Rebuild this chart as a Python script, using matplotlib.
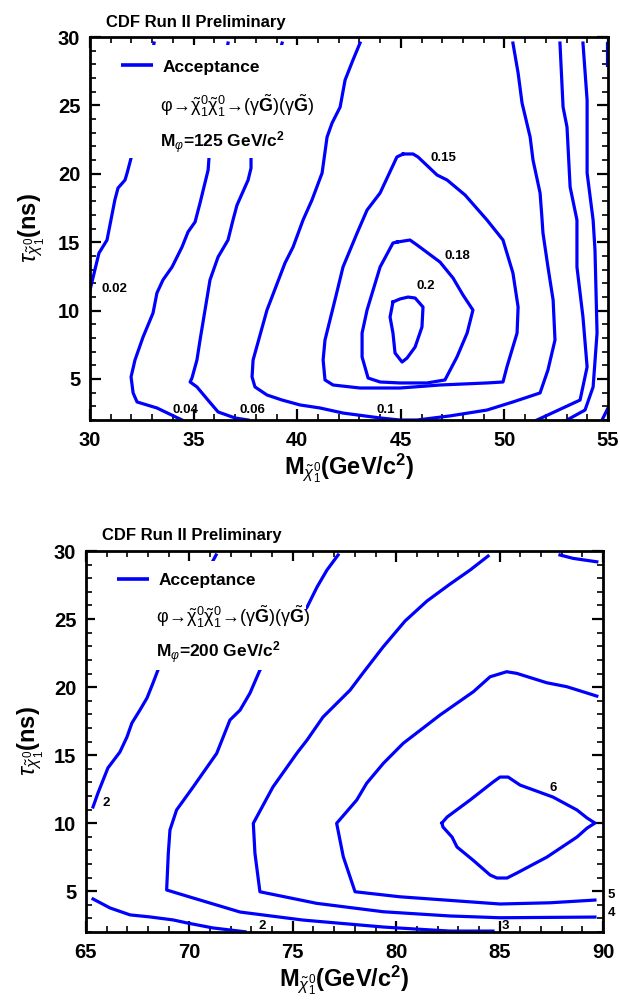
import matplotlib
matplotlib.use("Agg")
import matplotlib.pyplot as plt
from matplotlib.patches import Rectangle
from matplotlib.ticker import MultipleLocator

plt.rcParams['font.family'] = ['Liberation Sans', 'DejaVu Sans']
plt.rcParams['mathtext.fontset'] = 'custom'
plt.rcParams['mathtext.rm'] = 'Liberation Sans'
plt.rcParams['mathtext.it'] = 'Liberation Sans:italic'
plt.rcParams['mathtext.bf'] = 'Liberation Sans:bold'

# ---------------- M_phi = 125 GeV/c^2 : acceptance contours ----------------
acc125_002_x = [30.0, 30.43, 30.82, 31.2, 31.35, 31.69, 31.79, 31.98, 32.6, 33.09]
acc125_002_y = [11.5, 14.2, 15.16, 18.1, 18.96, 19.55, 20.06, 21.15, 25.5, 29.56]

acc125_004_x = [34.44, 33.23, 32.27, 32.08, 31.98, 32.17, 32.56, 33.04, 33.23, 33.52,
                33.96, 34.44, 34.73, 35.07, 35.31, 35.7, 35.74, 36.2, 36.66]
acc125_004_y = [2.0, 2.88, 3.32, 3.98, 5.15, 6.39, 8.07, 9.82, 11.29, 12.24,
                13.19, 14.65, 15.75, 16.48, 17.87, 20.28, 21.15, 25.5, 29.56]

acc125_006_x = [37.63, 37.0, 36.18, 35.69, 35.16, 34.83, 34.92, 35.16, 35.31, 35.55,
                35.79, 36.18, 36.66, 36.9, 37.09, 37.63, 37.77, 37.77, 38.5, 39.27]
acc125_006_y = [2.0, 2.15, 2.59, 3.46, 4.42, 4.78, 5.07, 6.39, 7.85, 10.04,
                12.24, 13.92, 15.16, 16.62, 17.7, 19.55, 20.42, 21.15, 25.5, 29.56]

acc125_010_x = [43.03, 42.69, 42.31, 42.07, 41.68, 41.44, 41.2, 40.71, 40.28, 39.8,
                39.41, 38.54, 37.87, 37.82, 37.96, 38.54, 39.27, 40.14, 41.1, 42.21,
                44.0, 44.96, 45.78, 47.37, 49.16, 50.41, 51.72, 52.1, 52.44, 52.35,
                52.1, 51.86, 51.8, 51.72, 51.38, 51.24, 50.85, 50.66, 50.41]
acc125_010_y = [29.56, 28.32, 26.86, 24.88, 23.71, 22.69, 20.06, 18.08, 16.62, 14.65,
                13.48, 10.04, 6.39, 5.15, 4.42, 3.83, 3.46, 3.1, 2.88, 2.51,
                2.15, 2.0, 2.0, 2.3, 2.73, 3.32, 3.98, 5.66, 7.85, 10.77,
                13.19, 15.67, 17.0, 18.6, 21.0, 22.69, 25.18, 27.37, 29.56]

acc125_015_x = [45.11, 45.59, 45.83, 46.75, 47.23, 48.1, 49.16, 49.93, 50.41, 50.66,
                50.61, 50.12, 49.93, 49.16, 46.89, 44.96, 43.03, 41.73, 41.34, 41.25,
                41.34, 41.82, 42.21, 42.89, 43.37, 44.0, 44.81, 45.11]
acc125_015_y = [21.45, 21.45, 21.23, 19.91, 19.55, 18.45, 16.62, 15.16, 12.75, 10.26,
                8.36, 5.88, 4.78, 4.71, 4.56, 4.34, 4.34, 4.56, 4.93, 6.39,
                7.85, 10.77, 13.19, 15.67, 17.35, 18.6, 21.23, 21.45]

acc125_018_x = [44.82, 45.44, 45.78, 46.89, 47.52, 48.0, 48.48, 48.2, 47.71, 47.13,
                46.26, 44.96, 44.0, 43.42, 43.13, 43.13, 43.37, 44.0, 44.62, 44.82]
acc125_018_y = [15.01, 15.16, 14.8, 13.55, 12.38, 11.14, 10.04, 8.36, 6.61, 4.93,
                4.71, 4.71, 4.78, 5.07, 6.61, 8.36, 10.04, 13.19, 14.94, 15.01]

acc125_020_x = [44.62, 44.96, 45.35, 45.69, 46.07, 46.02, 45.69, 45.3, 45.06, 44.72,
                44.62, 44.48, 44.62]
acc125_020_y = [10.63, 10.85, 10.99, 10.92, 10.26, 8.8, 7.34, 6.53, 6.24, 6.9,
                8.36, 9.53, 10.63]

acc125_006r_x = [51.57, 53.65, 53.99, 53.79, 53.5, 53.5, 53.17, 53.02, 52.83, 52.68]
acc125_006r_y = [2.0, 3.46, 5.88, 9.53, 13.19, 16.62, 19.04, 23.42, 24.88, 29.56]

acc125_004r_x = [53.02, 53.89, 54.28, 54.47, 54.37, 54.28, 53.99, 53.99, 53.79]
acc125_004r_y = [2.0, 2.73, 4.42, 8.36, 14.43, 16.62, 20.06, 25.39, 29.56]

acc125_002r_lo_x = [54.71, 55.0]
acc125_002r_lo_y = [2.0, 2.88]
acc125_002r_hi_x = [54.93, 54.93]
acc125_002r_hi_y = [29.56, 27.95]

# ---------------- M_phi = 200 GeV/c^2 : acceptance contours (%) ----------------
acc200_2a_x = [65.34, 65.58, 66.06, 66.64, 66.98, 67.22, 67.61, 67.95, 68.24, 68.48, 69.8, 71.29]
acc200_2a_y = [11.19, 12.22, 14.06, 15.23, 16.33, 17.36, 18.32, 19.2, 20.3, 21.26, 25.5, 29.71]

acc200_2b_x = [65.34, 66.16, 67.13, 68.09, 69.21, 69.88, 71.14, 72.69]
acc200_2b_y = [4.43, 3.77, 3.26, 3.11, 2.89, 2.67, 2.3, 2.02]

acc200_3_x = [77.19, 76.65, 76.17, 75.69, 73.41, 72.93, 72.45, 71.96, 71.32, 70.19,
              69.38, 69.06, 68.98, 68.9, 70.03, 72.45, 75.49, 79.36, 80.18, 82.6, 84.68]
acc200_3_y = [29.71, 28.6, 27.35, 25.88, 21.25, 19.56, 18.31, 17.58, 15.13, 12.68,
              10.97, 9.5, 7.78, 5.09, 4.57, 3.47, 2.88, 2.37, 2.29, 2.07, 2.07]

acc200_4_x = [84.44, 83.57, 82.6, 81.49, 80.43, 79.36, 78.39, 77.77, 76.46, 75.69,
              75.2, 74.04, 73.09, 73.17, 73.41, 76.15, 79.38, 82.6, 85.02, 89.61]
acc200_4_y = [29.63, 28.6, 27.57, 26.33, 24.86, 22.94, 21.03, 19.78, 17.8, 16.11,
              15.15, 12.66, 9.99, 7.78, 4.96, 4.11, 3.49, 3.18, 3.05, 3.1]

acc200_5_x = [89.70, 88.25, 87.28, 85.83, 85.34, 84.54, 83.73, 82.93, 82.12, 80.34,
              79.38, 78.57, 78.09, 77.12, 77.44, 78.01, 80.18, 85.02, 87.44, 89.61]
acc200_5_y = [19.34, 20.03, 20.32, 21.01, 21.13, 20.76, 19.66, 18.81, 17.95, 15.87,
              14.40, 12.93, 11.70, 9.99, 7.54, 4.96, 4.59, 4.06, 4.15, 4.35]

acc200_5c_x = [87.92, 88.56, 89.70]
acc200_5c_y = [29.71, 29.46, 29.21]

acc200_6_x = [82.21, 82.46, 83.57, 84.68, 85.02, 85.41, 85.99, 87.58, 88.74, 89.23,
              89.61, 89.23, 88.74, 87.29, 85.84, 85.36, 84.87, 84.54, 83.71, 82.94,
              82.7, 82.26, 82.21]
acc200_6_y = [10.01, 10.45, 11.7, 13.02, 13.39, 13.39, 12.8, 11.92, 10.97, 10.38,
              10.01, 9.64, 8.98, 7.51, 6.34, 5.97, 5.97, 6.19, 7.29, 8.25,
              8.98, 9.72, 10.01]

levels_125 = [0.02, 0.04, 0.06, 0.1, 0.15, 0.18, 0.2]
levels_200 = [2, 3, 4, 5, 6]

LINE = '#0000ff'
LW = 2.3


def style_axes(ax, xlim):
    ax.set_xlim(*xlim)
    ax.set_ylim(2, 30)
    ax.xaxis.set_major_locator(MultipleLocator(5))
    ax.xaxis.set_minor_locator(MultipleLocator(1))
    ax.yaxis.set_major_locator(MultipleLocator(5))
    ax.yaxis.set_minor_locator(MultipleLocator(1))
    ax.tick_params(which='both', direction='in', top=True, right=True, color='black')
    ax.tick_params(which='major', length=8, width=1.6, labelsize=14.5)
    ax.tick_params(which='minor', length=4, width=1.2)
    ax.tick_params(axis='x', pad=8)
    ax.tick_params(axis='y', pad=7)
    for lab in ax.get_xticklabels() + ax.get_yticklabels():
        lab.set_fontweight('bold')
    for sp in ax.spines.values():
        sp.set_linewidth(2.0)


def info_box(ax, box, mass, line_y, acc_y, dec_y, mass_y):
    x0, y0, x1, y1 = box
    ax.add_patch(Rectangle((x0, y0), x1 - x0, y1 - y0, transform=ax.transAxes,
                           facecolor='white', edgecolor='none', zorder=3))
    ax.plot([0.060, 0.121], [line_y, line_y], transform=ax.transAxes,
            color=LINE, lw=LW + 0.3, zorder=4, solid_capstyle='butt')
    ax.text(0.140, acc_y, 'Acceptance', transform=ax.transAxes, fontsize=12.5,
            fontweight='bold', ha='left', va='baseline', zorder=4)
    ax.text(0.136, dec_y,
            r'$\mathrm{\varphi\!\rightarrow\!\tilde{\chi}^{0}_{1}\tilde{\chi}^{0}_{1}\!\rightarrow\!'
            r'(\gamma}\tilde{\mathbf{G}}\mathrm{)(\gamma}\tilde{\mathbf{G}}\mathrm{)}$',
            transform=ax.transAxes, fontsize=13, ha='left', va='baseline', zorder=4)
    ax.text(0.135, mass_y, r'M$_{\varphi}$=%d GeV/c$^{\mathbf{2}}$' % mass,
            transform=ax.transAxes, fontsize=12.5, fontweight='bold',
            ha='left', va='baseline', zorder=4)


def axis_labels(ax, ylab_x):
    ax.text(0.5, -0.142, r'M$_{\tilde{\chi}^{0}_{1}}$(GeV/c$^{\mathbf{2}}$)',
            transform=ax.transAxes, fontsize=17, fontweight='bold',
            ha='center', va='baseline')
    ax.text(ylab_x, 0.5, r'$\tau_{\tilde{\chi}^{0}_{1}}$(ns)', transform=ax.transAxes,
            fontsize=17, fontweight='bold', ha='center', va='center', rotation=90)


def clabel(ax, x, y, level, fmt):
    ax.text(x, y, fmt.format(level), fontsize=9.5, fontweight='bold',
            ha='center', va='center', zorder=4, clip_on=False)


fig = plt.figure(figsize=(6.2, 10.01), dpi=100)

# ---------------- upper panel ----------------
ax1 = fig.add_axes([0.1452, 0.5804, 0.8355, 0.3826])
curves_125 = [
    (acc125_002_x, acc125_002_y), (acc125_004_x, acc125_004_y),
    (acc125_006_x, acc125_006_y), (acc125_010_x, acc125_010_y),
    (acc125_015_x, acc125_015_y), (acc125_018_x, acc125_018_y),
    (acc125_020_x, acc125_020_y), (acc125_006r_x, acc125_006r_y),
    (acc125_004r_x, acc125_004r_y), (acc125_002r_lo_x, acc125_002r_lo_y),
    (acc125_002r_hi_x, acc125_002r_hi_y),
]
for cx, cy in curves_125:
    ax1.plot(cx, cy, color=LINE, lw=LW, zorder=2, solid_joinstyle='round')
style_axes(ax1, (30, 55))
info_box(ax1, (0.020, 0.684, 0.440, 0.979), 125, 0.927, 0.909, 0.804, 0.710)
axis_labels(ax1, -0.113)

fmt125 = '{:g}'
clabel(ax1, 31.16, 11.58, levels_125[0], fmt125)
clabel(ax1, 34.59, 2.70, levels_125[1], fmt125)
clabel(ax1, 37.82, 2.70, levels_125[2], fmt125)
clabel(ax1, 44.29, 2.70, levels_125[3], fmt125)
clabel(ax1, 47.08, 21.15, levels_125[4], fmt125)
clabel(ax1, 47.71, 13.99, levels_125[5], fmt125)
clabel(ax1, 46.19, 11.80, levels_125[6], fmt125)

fig.text(0.171, 0.973, 'CDF Run II Preliminary', fontsize=12, fontweight='bold',
         ha='left', va='baseline')

# ---------------- lower panel ----------------
ax2 = fig.add_axes([0.1387, 0.0689, 0.8339, 0.3806])
curves_200 = [
    (acc200_2a_x, acc200_2a_y), (acc200_2b_x, acc200_2b_y),
    (acc200_3_x, acc200_3_y), (acc200_4_x, acc200_4_y),
    (acc200_5_x, acc200_5_y), (acc200_5c_x, acc200_5c_y),
    (acc200_6_x, acc200_6_y),
]
for cx, cy in curves_200:
    ax2.plot(cx, cy, color=LINE, lw=LW, zorder=2, solid_joinstyle='round')
style_axes(ax2, (65, 90))
info_box(ax2, (0.017, 0.688, 0.425, 0.974), 200, 0.927, 0.911, 0.811, 0.719)
axis_labels(ax2, -0.107)

fmt200 = '{:d}'
clabel(ax2, 66.00, 11.48, levels_200[0], fmt200)
clabel(ax2, 73.53, 2.44, levels_200[0], fmt200)
clabel(ax2, 85.26, 2.44, levels_200[1], fmt200)
clabel(ax2, 90.39, 3.40, levels_200[2], fmt200)
clabel(ax2, 90.39, 4.72, levels_200[3], fmt200)
clabel(ax2, 87.58, 12.58, levels_200[4], fmt200)

fig.text(0.1645, 0.4605, 'CDF Run II Preliminary', fontsize=12, fontweight='bold',
         ha='left', va='baseline')

fig.savefig('out.png', dpi=100)
